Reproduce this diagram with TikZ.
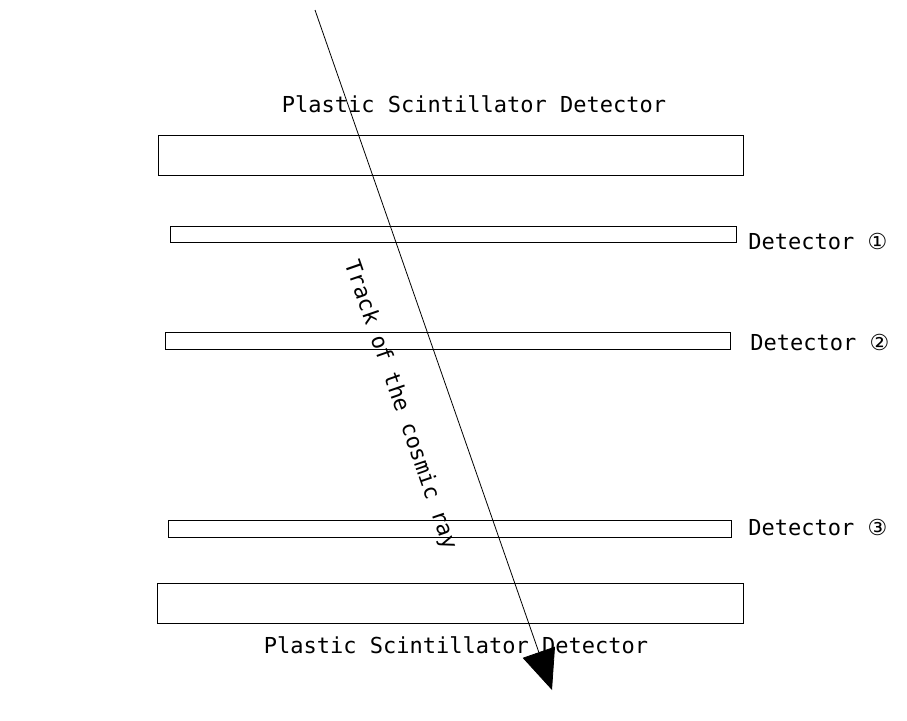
\documentclass[tikz,border=0pt]{standalone}
\usepackage{fontspec}
\setmonofont{DejaVu Sans Mono}
\newfontfamily\circfont{DejaVu Sans}
\usetikzlibrary{arrows.meta}
\begin{document}
\begin{tikzpicture}[x=0.5pt,y=-0.5pt,
  lbl/.style={font=\ttfamily\fontsize{11}{13}\selectfont,inner sep=0pt},
  slab/.style={draw,thin}]
 \useasboundingbox (0,0) rectangle (907,720); %範囲
 % detectors
 \draw[slab] (158,135) rectangle (743,175);
 \draw[slab] (170,226) rectangle (736,242);
 \draw[slab] (165,332) rectangle (730,349);
 \draw[slab] (168,520) rectangle (731,537);
 \draw[slab] (157,583) rectangle (743,623);
 % labels
 \node[lbl] (ptop) at (474,104) {Plastic Scintillator Detector};
 \node[lbl] (pbot) at (456,645) {Plastic Scintillator Detector};
 \node[lbl,anchor=west] (d1) at (748,242) {Detector {\circfont ①}};
 \node[lbl,anchor=west] (d2) at (750,343) {Detector {\circfont ②}};
 \node[lbl,anchor=west] (d3) at (748,528) {Detector {\circfont ③}};
 % track
 \coordinate (ts) at (315,10);
 \coordinate (te) at (552,690);
 \draw[-{Triangle[length=20pt,width=17pt]}] (ts)--(te);
 \node[lbl,rotate=-70.9] (trk) at (400,405) {Track of the cosmic ray};
\end{tikzpicture}
\end{document}
